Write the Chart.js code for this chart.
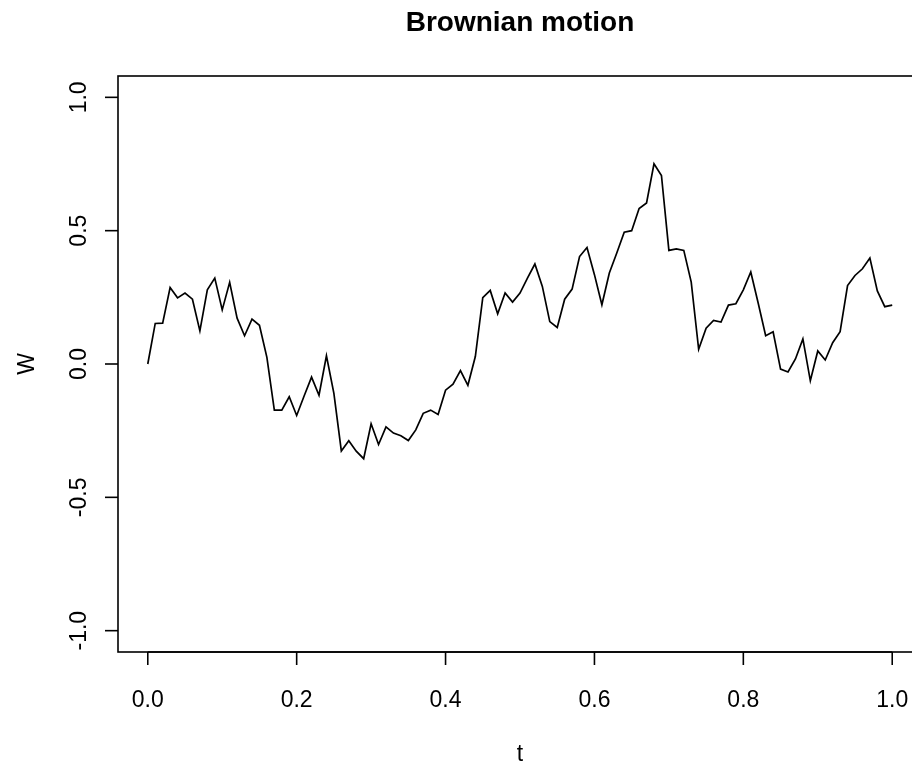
<!DOCTYPE html>
<html>
<head>
<meta charset="utf-8">
<title>Brownian motion</title>
<script src="https://cdn.jsdelivr.net/npm/chart.js@4"></script>
<style>
  html, body { margin: 0; padding: 0; background: #fff; overflow: hidden; }
  #wrap { width: 912px; height: 767px; overflow: hidden; }
  canvas { display: block; }
</style>
</head>
<body>
<div id="wrap"><canvas id="bm" width="940" height="767"></canvas></div>
<script>
// time steps
const tValues = [
  0.00, 0.01, 0.02, 0.03, 0.04, 0.05, 0.06, 0.07, 0.08, 0.09,
  0.10, 0.11, 0.12, 0.13, 0.14, 0.15, 0.16, 0.17, 0.18, 0.19,
  0.20, 0.21, 0.22, 0.23, 0.24, 0.25, 0.26, 0.27, 0.28, 0.29,
  0.30, 0.31, 0.32, 0.33, 0.34, 0.35, 0.36, 0.37, 0.38, 0.39,
  0.40, 0.41, 0.42, 0.43, 0.44, 0.45, 0.46, 0.47, 0.48, 0.49,
  0.50, 0.51, 0.52, 0.53, 0.54, 0.55, 0.56, 0.57, 0.58, 0.59,
  0.60, 0.61, 0.62, 0.63, 0.64, 0.65, 0.66, 0.67, 0.68, 0.69,
  0.70, 0.71, 0.72, 0.73, 0.74, 0.75, 0.76, 0.77, 0.78, 0.79,
  0.80, 0.81, 0.82, 0.83, 0.84, 0.85, 0.86, 0.87, 0.88, 0.89,
  0.90, 0.91, 0.92, 0.93, 0.94, 0.95, 0.96, 0.97, 0.98, 0.99,
  1.00
];

// W(t)
const wValues = [
  0.000, 0.152, 0.153, 0.287, 0.248, 0.266, 0.243, 0.124, 0.278, 0.322,
  0.203, 0.306, 0.172, 0.106, 0.168, 0.145, 0.025, -0.173, -0.173, -0.123,
  -0.193, -0.120, -0.049, -0.117, 0.031, -0.110, -0.326, -0.288, -0.327, -0.355,
  -0.224, -0.302, -0.236, -0.259, -0.269, -0.287, -0.247, -0.185, -0.173, -0.189,
  -0.098, -0.076, -0.025, -0.080, 0.028, 0.249, 0.276, 0.188, 0.266, 0.232,
  0.266, 0.322, 0.375, 0.291, 0.159, 0.137, 0.243, 0.281, 0.403, 0.437,
  0.335, 0.222, 0.341, 0.416, 0.494, 0.500, 0.583, 0.604, 0.751, 0.707,
  0.426, 0.432, 0.426, 0.307, 0.055, 0.134, 0.163, 0.157, 0.221, 0.226,
  0.278, 0.345, 0.228, 0.106, 0.121, -0.019, -0.030, 0.019, 0.094, -0.063,
  0.049, 0.015, 0.080, 0.121, 0.294, 0.332, 0.357, 0.397, 0.274, 0.215,
  0.221
];

const xTicks = [0, 0.2, 0.4, 0.6, 0.8, 1.0];
const xTickLabels = ['0.0', '0.2', '0.4', '0.6', '0.8', '1.0'];
const yTicks = [-1, -0.5, 0, 0.5, 1];
const yTickLabels = ['-1.0', '-0.5', '0.0', '0.5', '1.0'];

const titleText = 'Brownian motion';
const xTitle = 't';
const yTitle = 'W';

const FONT = '"Liberation Sans", Arial, Helvetica, sans-serif';

// R-style box, ticks, labels drawn through the chart's scales
const rAxes = {
  id: 'rAxes',
  afterDraw(chart) {
    const ctx = chart.ctx;
    const a = chart.chartArea;
    const xs = chart.scales.x;
    const ys = chart.scales.y;
    ctx.save();
    ctx.strokeStyle = '#000';
    ctx.fillStyle = '#000';
    ctx.lineWidth = 1.6;

    // box
    ctx.strokeRect(a.left, a.top, a.right - a.left, a.bottom - a.top);

    // x axis
    ctx.font = '23px ' + FONT;
    ctx.textAlign = 'center';
    ctx.textBaseline = 'middle';
    xTicks.forEach((v, i) => {
      const px = xs.getPixelForValue(v);
      ctx.beginPath();
      ctx.moveTo(px, a.bottom);
      ctx.lineTo(px, a.bottom + 13);
      ctx.stroke();
      ctx.fillText(xTickLabels[i], px, a.bottom + 49);
    });
    ctx.beginPath();
    ctx.moveTo(xs.getPixelForValue(xTicks[0]), a.bottom);
    ctx.lineTo(xs.getPixelForValue(xTicks[xTicks.length - 1]), a.bottom);
    ctx.stroke();

    // y axis
    yTicks.forEach((v, i) => {
      const py = ys.getPixelForValue(v);
      ctx.beginPath();
      ctx.moveTo(a.left, py);
      ctx.lineTo(a.left - 13, py);
      ctx.stroke();
      ctx.save();
      ctx.translate(80, py);
      ctx.rotate(-Math.PI / 2);
      ctx.fillText(yTickLabels[i], 0, 0);
      ctx.restore();
    });

    // axis titles
    ctx.fillText(xTitle, (a.left + a.right) / 2, 755);
    ctx.save();
    ctx.translate(28, (a.top + a.bottom) / 2);
    ctx.rotate(-Math.PI / 2);
    ctx.fillText(yTitle, 0, 0);
    ctx.restore();

    // main title
    ctx.font = 'bold 28px ' + FONT;
    ctx.fillText(titleText, (a.left + a.right) / 2, 23);
    ctx.restore();
  }
};

new Chart(document.getElementById('bm'), {
  type: 'line',
  data: {
    datasets: [{
      label: yTitle,
      data: tValues.map((t, i) => ({ x: t, y: wValues[i] })),
      borderColor: '#000',
      borderWidth: 1.7,
      pointRadius: 0,
      tension: 0,
      fill: false
    }]
  },
  options: {
    responsive: false,
    animation: false,
    events: [],
    layout: {
      padding: { left: 118, right: 18, top: 76, bottom: 115 }
    },
    scales: {
      x: { type: 'linear', min: -0.04, max: 1.04, display: false },
      y: { type: 'linear', min: -1.08, max: 1.08, display: false }
    },
    plugins: {
      legend: { display: false },
      tooltip: { enabled: false },
      title: { display: false }
    }
  },
  plugins: [rAxes]
});
</script>
</body>
</html>
